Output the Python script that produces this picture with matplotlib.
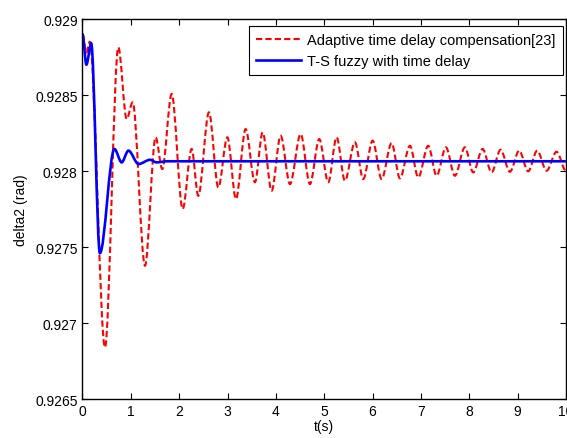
import matplotlib
matplotlib.use("Agg")
import matplotlib.pyplot as plt
from matplotlib.path import Path
from matplotlib.patches import PathPatch
from matplotlib.lines import Line2D

plt.rcParams['font.family'] = ['Liberation Sans', 'DejaVu Sans']

# turning points
t_red = [0.0, 0.08, 0.15, 0.465, 0.741, 0.914, 1.038, 1.293, 1.513, 1.65, 1.845,
         2.072, 2.258, 2.395, 2.616, 2.81, 2.996, 3.175, 3.375, 3.567, 3.727,
         3.913, 4.099, 4.292, 4.513, 4.705, 4.898, 5.084, 5.257, 5.429, 5.636,
         5.808, 6.002, 6.188, 6.395, 6.567, 6.774, 6.946, 7.152, 7.326, 7.518,
         7.704, 7.911, 8.083, 8.277, 8.463, 8.649, 8.842, 9.034, 9.22, 9.406,
         9.601, 9.808, 10.0]
y_red = [0.92890, 0.92878, 0.92885, 0.92684, 0.928814, 0.928342, 0.928452,
         0.927377, 0.928222, 0.928013, 0.928507, 0.92775, 0.928145, 0.927837,
         0.928386, 0.927892, 0.928222, 0.927816, 0.928276, 0.927926, 0.928254,
         0.92787, 0.928232, 0.927914, 0.928243, 0.927914, 0.92821, 0.927926,
         0.928222, 0.927936, 0.928189, 0.927947, 0.9282, 0.927947, 0.928184,
         0.927952, 0.928166, 0.927958, 0.928166, 0.927969, 0.928156, 0.927969,
         0.928156, 0.927991, 0.928145, 0.927991, 0.92814, 0.927995, 0.928134,
         0.927998, 0.928134, 0.928002, 0.928127, 0.928002]

t_blue = [0.0, 0.08, 0.18, 0.36, 0.66, 0.81, 0.95, 1.16, 1.40, 1.53, 1.75, 10.0]
y_blue = [0.92890, 0.92870, 0.92884, 0.92746, 0.928145, 0.928057, 0.928134,
          0.928046, 0.928074, 0.928057, 0.928064, 0.928064]

labels = ['Adaptive time delay compensation[23]', 'T-S fuzzy with time delay']


def smooth(t, y):
    # bezier through the turning points, flat at each one
    verts = [(t[0], y[0])]
    codes = [Path.MOVETO]
    for i in range(1, len(t)):
        d = (t[i] - t[i-1]) / 3.0
        verts += [(t[i-1] + d, y[i-1]), (t[i] - d, y[i]), (t[i], y[i])]
        codes += [Path.CURVE4] * 3
    return Path(verts, codes)


fig = plt.figure(figsize=(5.67, 4.39), dpi=100)
ax = fig.add_axes([0.1455, 0.0888, 0.8525, 0.8656])

red_ls = (0, (3, 1.5))
ax.add_patch(PathPatch(smooth(t_red, y_red), fill=False, edgecolor='red',
                       lw=1.5, linestyle=red_ls))
ax.add_patch(PathPatch(smooth(t_blue, y_blue), fill=False, edgecolor='blue',
                       lw=1.9))

ax.set_xlim(0, 10)
ax.set_ylim(0.9265, 0.929)
ax.set_xticks(range(11))
ax.set_yticks([0.9265, 0.927, 0.9275, 0.928, 0.9285, 0.929])
ax.set_yticklabels(['0.9265', '0.927', '0.9275', '0.928', '0.9285', '0.929'])
ax.tick_params(direction='in', top=True, right=True, length=4, labelsize=10,
               width=0.8)
for s in ax.spines.values():
    s.set_linewidth(1.0)
ax.set_xlabel('t(s)', fontsize=10, labelpad=1)
ax.set_ylabel('delta2 (rad)', fontsize=10, labelpad=5)

handles = [Line2D([], [], color='red', lw=1.5, linestyle=red_ls),
           Line2D([], [], color='blue', lw=1.9)]
leg = ax.legend(handles, labels, loc='upper right',
                bbox_to_anchor=(0.994, 0.982), fancybox=False,
                edgecolor='black', framealpha=1, fontsize=10.5,
                handlelength=3.1, handletextpad=0.4, borderpad=0.5,
                labelspacing=0.45, borderaxespad=0)
leg.get_frame().set_linewidth(0.8)

fig.savefig('out.png', dpi=100)
